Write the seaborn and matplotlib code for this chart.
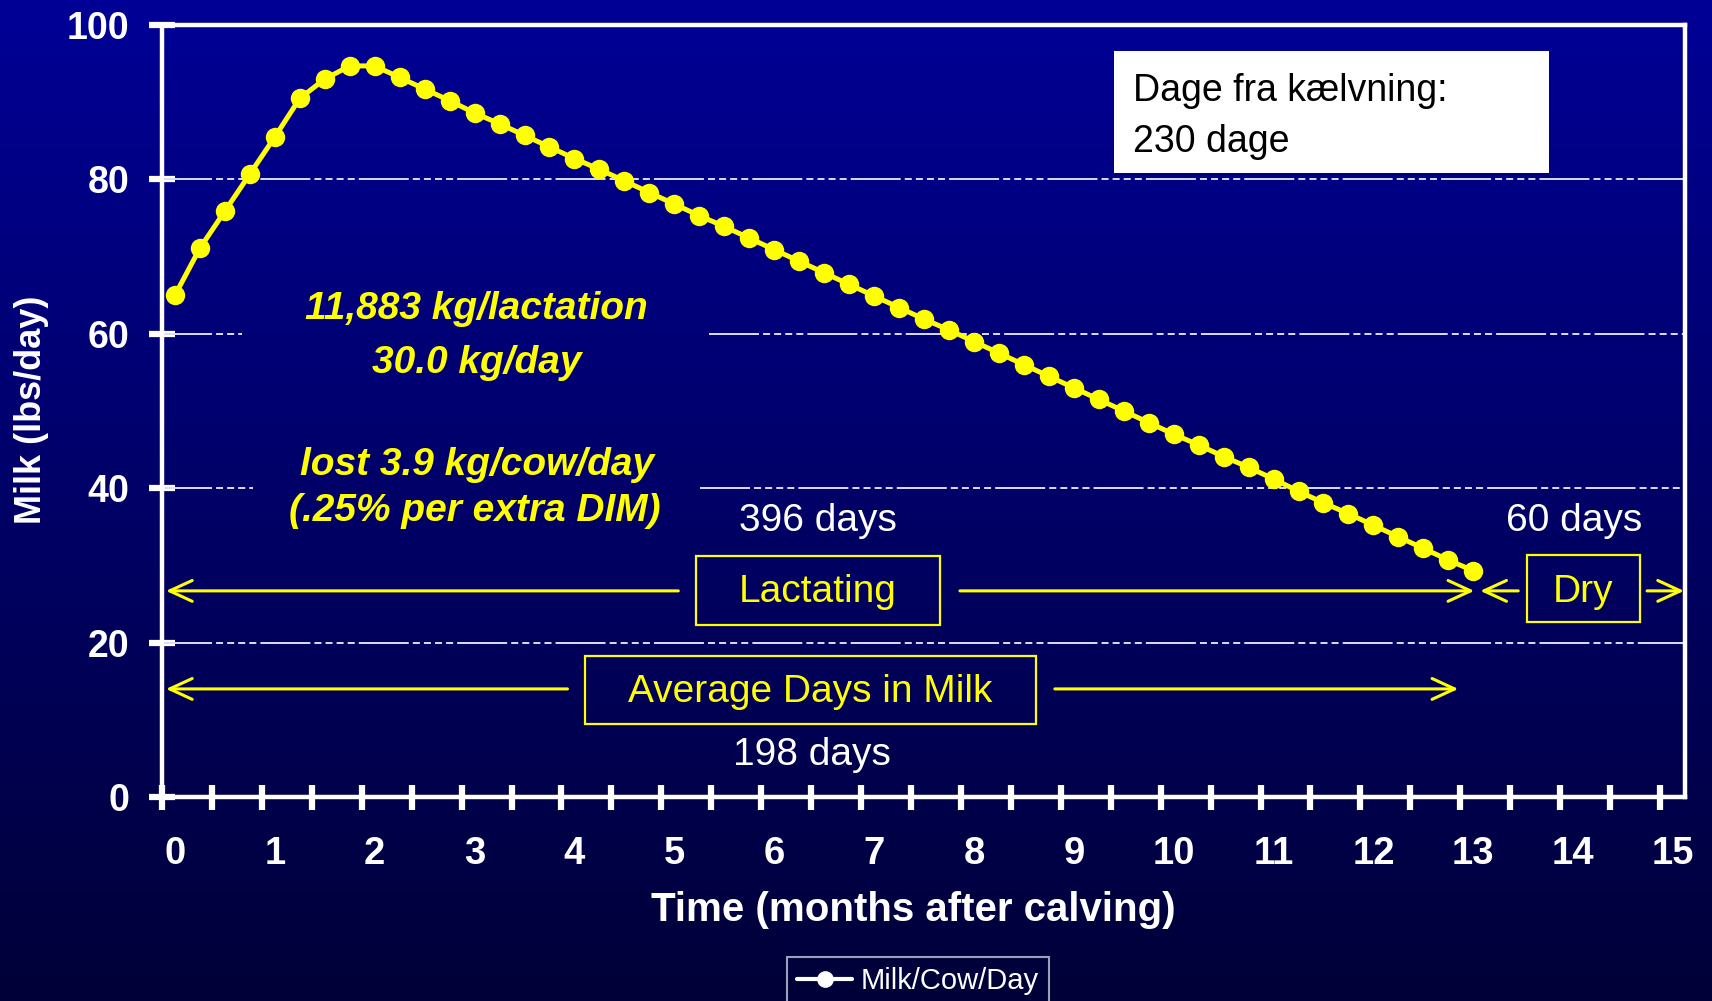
import numpy as np
import pandas as pd
import seaborn as sns
import matplotlib.pyplot as plt
from matplotlib.colors import LinearSegmentedColormap
from matplotlib.patches import Rectangle
from matplotlib.lines import Line2D

# maelk pr. ko pr. dag, aflaest for hver kvarte maaned
months = [0, 0.25, 0.5, 0.75, 1, 1.25, 1.5, 1.75, 2, 2.25, 2.5, 2.75, 3, 3.25, 3.5, 3.75,
          4, 4.25, 4.5, 4.75, 5, 5.25, 5.5, 5.75, 6, 6.25, 6.5, 6.75, 7, 7.25, 7.5, 7.75,
          8, 8.25, 8.5, 8.75, 9, 9.25, 9.5, 9.75, 10, 10.25, 10.5, 10.75, 11, 11.25, 11.5,
          11.75, 12, 12.25, 12.5, 12.75, 13]
milk = [65.0, 71.1, 75.9, 80.7, 85.5, 90.5, 93.0, 94.7, 94.7, 93.2, 91.7, 90.2, 88.6, 87.2,
        85.7, 84.2, 82.7, 81.3, 79.8, 78.3, 76.8, 75.3, 73.9, 72.4, 70.9, 69.4, 67.9, 66.4,
        64.9, 63.4, 61.9, 60.5, 59.0, 57.5, 56.0, 54.5, 53.0, 51.5, 50.0, 48.5, 47.0, 45.6,
        44.1, 42.7, 41.2, 39.6, 38.1, 36.7, 35.2, 33.7, 32.2, 30.7, 29.3]
x_labels = list(range(16))
y_ticks = [0, 20, 40, 60, 80, 100]
series_name = 'Milk/Cow/Day'

df = pd.DataFrame({'month': months, 'milk': milk})

sns.set_theme(style='white')
plt.rcParams['font.family'] = ['Liberation Sans', 'DejaVu Sans']
plt.rcParams['font.weight'] = 'bold'

YEL = '#FFFF00'
fig = plt.figure(figsize=(17.12, 10.01), dpi=100)

# baggrund med blaa gradient
bg = fig.add_axes([0, 0, 1, 1], zorder=0)
grad = np.linspace(0, 1, 256)[:, None]
bg.imshow(grad, aspect='auto', extent=[0, 1, 0, 1],
          cmap=LinearSegmentedColormap.from_list('bg', ['#000096', '#000038']))
bg.axis('off')

ax = fig.add_axes([162 / 1712, 204 / 1001, 1523 / 1712, 772 / 1001], zorder=1)
ax.set_facecolor('none')

sns.lineplot(data=df, x='month', y='milk', ax=ax, color=YEL, lw=3.6, marker='o',
             markersize=14, markeredgecolor=YEL, markeredgewidth=0, legend=False, zorder=4)

ax.set_xlim(-0.13, 15.12)
ax.set_ylim(0, 100)

# gitterlinjer, afbrudt bag de gule tekster
gc = '#dcdcf5'
dash = (0, (25.7, 2.1, 3.6, 2.1, 3.6, 2.1, 3.6, 2.1, 3.6, 2.1))
for yv, segs in [(20, [(-0.13, 15.12)]), (80, [(-0.13, 15.12)]),
                 (60, [(-0.13, 0.67), (5.35, 15.12)]), (40, [(-0.13, 0.78), (5.26, 15.12)])]:
    for a, b in segs:
        ax.plot([a, b], [yv, yv], color=gc, lw=1.4, linestyle=dash, zorder=1)

# akser
for s in ax.spines.values():
    s.set_color('white')
    s.set_linewidth(3.2)
    s.set_visible(True)

ax.set_xticks(x_labels)
ax.set_xticklabels([str(v) for v in x_labels])
ax.set_xticks(np.arange(31) * 0.5 - 0.13, minor=True)
ax.tick_params(axis='x', which='major', length=0, pad=28, labelsize=27.5, labelcolor='white')
ax.tick_params(axis='x', which='minor', direction='inout', length=18, width=4.5,
               color='white', bottom=True)
ax.set_yticks(y_ticks)
ax.tick_params(axis='y', direction='inout', length=19.4, width=4.5, color='white',
               pad=14, labelsize=27, labelcolor='white', left=True)

ax.set_xlabel('Time (months after calving)', fontsize=29, color='white', fontweight='bold')
ax.xaxis.set_label_coords(0.493, -0.146)
ax.xaxis.label.set_va('center')
ax.set_ylabel('Milk (lbs/day)', fontsize=26, color='white', fontweight='bold')
ax.yaxis.set_label_coords(-0.0854, 0.501)
ax.yaxis.label.set_va('center')

# gule noter
ykw = dict(color=YEL, fontsize=28, fontstyle='italic', ha='center', va='center', zorder=5)
ax.text(3.02, 63.2, '11,883 kg/lactation', **ykw)
ax.text(3.02, 56.2, '30.0 kg/day', **ykw)
ax.text(3.02, 43.0, 'lost 3.9 kg/cow/day', **ykw)
ax.text(3.00, 37.0, '(.25% per extra DIM)', **ykw)

# dage-tekster
wkw = dict(color='white', fontsize=28, fontweight='normal', ha='center', va='center', zorder=5)
ax.text(6.44, 35.7, '396 days', **wkw)
ax.text(14.01, 35.7, '60 days', **wkw)
ax.text(6.38, 5.5, '198 days', **wkw)

# kasser med etiketter
bkw = dict(color=YEL, fontsize=28, fontweight='normal', ha='center', va='center', zorder=5)
boxes = [((5.22, 22.3), 2.44, 8.9, 'Lactating', (6.44, 26.5)),
         ((13.54, 22.7), 1.13, 8.7, 'Dry', (14.10, 26.6)),
         ((4.11, 9.5), 4.51, 8.8, 'Average Days in Milk', (6.36, 13.6))]
for xy, w, h, label, (tx, ty) in boxes:
    ax.add_patch(Rectangle(xy, w, h, fill=False, edgecolor=YEL, lw=1.6, zorder=5))
    ax.text(tx, ty, label, **bkw)

# pile
akw = dict(arrowstyle='->,head_length=0.65,head_width=0.3', color=YEL, lw=2.2,
           shrinkA=0, shrinkB=0, mutation_scale=25)
arrows = [((5.04, 26.7), (-0.09, 26.7)), ((7.86, 26.7), (13.01, 26.7)),
          ((13.45, 26.7), (13.07, 26.7)), ((14.74, 26.7), (15.11, 26.7)),
          ((3.93, 14.0), (-0.09, 14.0)), ((8.81, 14.0), (12.85, 14.0))]
for tail, head in arrows:
    ax.annotate('', xy=head, xytext=tail, arrowprops=akw, zorder=5)

# hvid boks
ax.add_patch(Rectangle((9.40, 80.8), 4.36, 15.8, facecolor='white', edgecolor='none', zorder=6))
dkw = dict(color='black', fontsize=27, fontweight='normal', ha='left', va='center', zorder=7)
ax.text(9.59, 91.4, 'Dage fra kælvning:', **dkw)
ax.text(9.59, 84.9, '230 dage', **dkw)

# legende
handle = Line2D([0], [0], color='white', lw=3, marker='o', markersize=11)
leg = ax.legend(handles=[handle], labels=[series_name], loc='upper center',
                bbox_to_anchor=(918 / 1712, 1 - 957 / 1001), bbox_transform=fig.transFigure,
                prop={'size': 21, 'weight': 'normal'}, labelcolor='white', frameon=True,
                fancybox=False, edgecolor='#c8c8d8', handlelength=1.9, handletextpad=0.3,
                borderpad=0.35, borderaxespad=0)
leg.get_frame().set_facecolor('none')
leg.get_frame().set_linewidth(1.5)

fig.savefig('out.png', dpi=100)
